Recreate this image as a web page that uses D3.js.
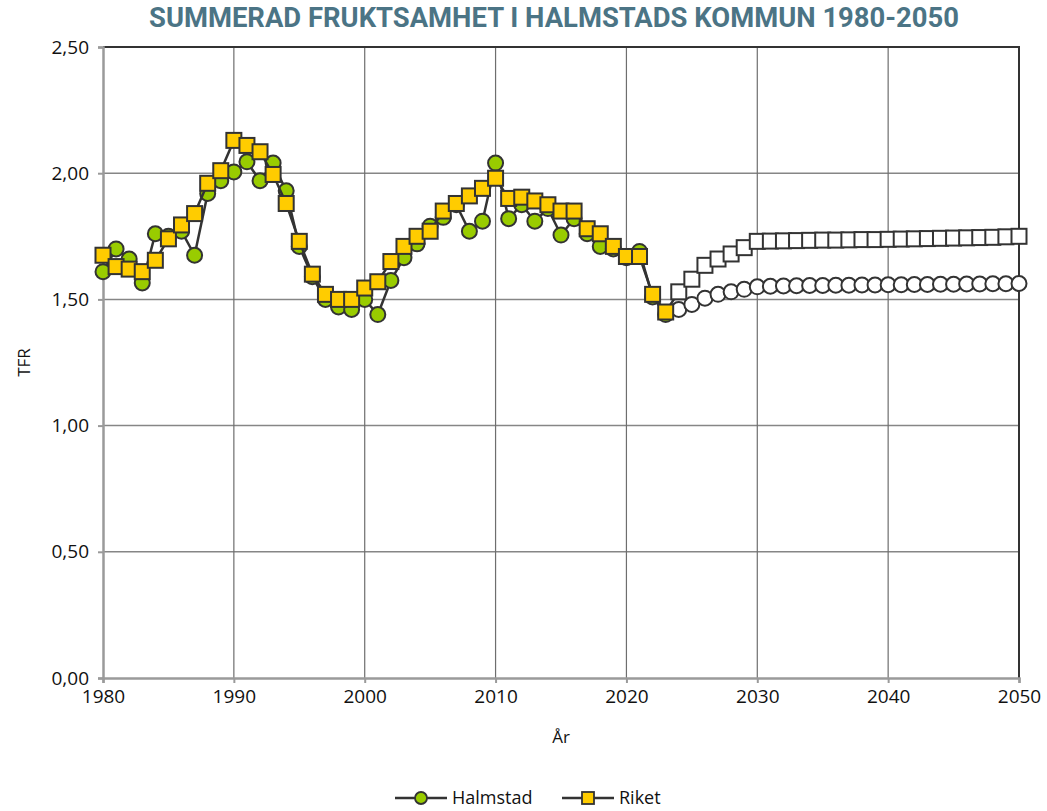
<!DOCTYPE html>
<html>
<head>
<meta charset="utf-8">
<script src="https://cdn.jsdelivr.net/npm/d3@7"></script>
<style>
  body { margin: 0; background: #fff; }
  text { font-family: "Open Sans", "DejaVu Sans", sans-serif; }
</style>
</head>
<body>
<div id="chart"></div>
<script>
// years 1980-2050, observed up to 2023, projection after
const years = d3.range(1980, 2051);
const lastObserved = 2023;

const halmstad = [
  1.61, 1.70, 1.66, 1.565, 1.76, 1.75, 1.77, 1.675, 1.92, 1.97,
  2.005, 2.045, 1.97, 2.04, 1.93, 1.71, 1.59, 1.50, 1.47, 1.46,
  1.50, 1.44, 1.575, 1.665, 1.72, 1.79, 1.825, 1.875, 1.77, 1.81,
  2.04, 1.82, 1.875, 1.81, 1.86, 1.755, 1.82, 1.76, 1.71, 1.70,
  1.665, 1.69, 1.51, 1.44,
  1.46, 1.48, 1.505, 1.52, 1.53, 1.54, 1.55, 1.552, 1.553, 1.554,
  1.555, 1.555, 1.556, 1.556, 1.557, 1.557, 1.558, 1.558, 1.559, 1.559,
  1.56, 1.56, 1.561, 1.561, 1.562, 1.562, 1.563
];

const riket = [
  1.675, 1.63, 1.62, 1.61, 1.655, 1.74, 1.795, 1.84, 1.96, 2.01,
  2.13, 2.11, 2.085, 1.995, 1.88, 1.73, 1.60, 1.52, 1.50, 1.50,
  1.545, 1.57, 1.65, 1.71, 1.75, 1.77, 1.85, 1.88, 1.91, 1.94,
  1.98, 1.90, 1.905, 1.89, 1.875, 1.85, 1.85, 1.78, 1.76, 1.71,
  1.67, 1.67, 1.52, 1.45,
  1.53, 1.58, 1.635, 1.66, 1.68, 1.705, 1.73, 1.731, 1.732, 1.733,
  1.734, 1.735, 1.735, 1.736, 1.737, 1.737, 1.738, 1.739, 1.74, 1.741,
  1.742, 1.743, 1.744, 1.745, 1.746, 1.748, 1.75
];

const yTicks = [0, 0.5, 1.0, 1.5, 2.0, 2.5];
const xTicks = [1980, 1990, 2000, 2010, 2020, 2030, 2040, 2050];

const width = 1047, height = 811;
const margin = { top: 47, right: 28, bottom: 133, left: 103 };

const svg = d3.select("#chart").append("svg")
  .attr("width", width)
  .attr("height", height);

const x = d3.scaleLinear().domain([1980, 2050]).range([margin.left, width - margin.right]);
const y = d3.scaleLinear().domain([0, 2.5]).range([height - margin.bottom, margin.top]);

const fmt = d => d.toFixed(2).replace(".", ",");

// gridlines
svg.append("g")
  .selectAll("line.h")
  .data(yTicks.slice(1, -1))
  .enter().append("line")
  .attr("x1", x(1980)).attr("x2", x(2050))
  .attr("y1", d => y(d)).attr("y2", d => y(d))
  .attr("stroke", "#868686").attr("stroke-width", 1.5);

svg.append("g")
  .selectAll("line.v")
  .data(xTicks.slice(1, -1))
  .enter().append("line")
  .attr("x1", d => x(d)).attr("x2", d => x(d))
  .attr("y1", y(0)).attr("y2", y(2.5))
  .attr("stroke", "#6e6e6e").attr("stroke-width", 1.2);

// border top/right
svg.append("path")
  .attr("d", `M${x(1980)},${y(2.5)}H${x(2050)}V${y(0)}`)
  .attr("fill", "none").attr("stroke", "#333").attr("stroke-width", 2);

// axes
const yAxis = svg.append("g")
  .attr("transform", `translate(${x(1980)},0)`)
  .call(d3.axisLeft(y).tickValues(yTicks).tickFormat(fmt).tickSize(5).tickPadding(9));
const xAxis = svg.append("g")
  .attr("transform", `translate(0,${y(0)})`)
  .call(d3.axisBottom(x).tickValues(xTicks).tickFormat(d3.format("d")).tickSize(5).tickPadding(7));

[yAxis, xAxis].forEach(g => {
  g.select(".domain").attr("stroke", "#9a9a9a").attr("stroke-width", 2.5);
  g.selectAll(".tick line").attr("stroke", "#9a9a9a").attr("stroke-width", 2);
  g.selectAll(".tick text").attr("fill", "#111").style("font-size", "19px")
    .style("font-family", "'Open Sans', sans-serif");
});

// axis titles
svg.append("text")
  .attr("x", 561).attr("y", 743)
  .attr("text-anchor", "middle")
  .style("font-size", "17px").attr("fill", "#111")
  .text("År");

svg.append("text")
  .attr("transform", `translate(30,${(y(0) + y(2.5)) / 2}) rotate(-90)`)
  .attr("text-anchor", "middle")
  .style("font-size", "17px").attr("fill", "#111")
  .text("TFR");

// title
svg.append("text")
  .attr("x", 554).attr("y", 27)
  .attr("text-anchor", "middle")
  .attr("textLength", 810)
  .attr("lengthAdjust", "spacingAndGlyphs")
  .style("font-family", "'Liberation Sans Narrow', 'Roboto', sans-serif")
  .style("font-weight", "bold")
  .style("font-size", "28px")
  .attr("fill", "#4b7485")
  .text("SUMMERAD FRUKTSAMHET I HALMSTADS KOMMUN 1980-2050");

// series
const line = d3.line().x(d => x(d.year)).y(d => y(d.value));
const toPoints = arr => years.map((yr, i) => ({ year: yr, value: arr[i] }));

const halmPts = toPoints(halmstad);
const riketPts = toPoints(riket);

const lineColor = "#333333";
const markerStroke = "#333333";
const r = 7.5, side = 15;

function drawSeries(points, shape, fill) {
  svg.append("path")
    .datum(points)
    .attr("d", line)
    .attr("fill", "none")
    .attr("stroke", lineColor)
    .attr("stroke-width", 2.5);

  const g = svg.append("g");
  if (shape === "circle") {
    g.selectAll("circle").data(points).enter().append("circle")
      .attr("cx", d => x(d.year)).attr("cy", d => y(d.value)).attr("r", r)
      .attr("fill", d => d.year > lastObserved ? "#fff" : fill)
      .attr("stroke", markerStroke).attr("stroke-width", 2);
  } else {
    g.selectAll("rect").data(points).enter().append("rect")
      .attr("x", d => x(d.year) - side / 2).attr("y", d => y(d.value) - side / 2)
      .attr("width", side).attr("height", side)
      .attr("fill", d => d.year > lastObserved ? "#fff" : fill)
      .attr("stroke", markerStroke).attr("stroke-width", 2);
  }
}

drawSeries(halmPts, "circle", "#99cc00");
drawSeries(riketPts, "square", "#ffcc00");

// legend
const legend = svg.append("g").attr("transform", "translate(0,798)");
const legendItems = [
  { name: "Halmstad", x0: 395, shape: "circle", fill: "#99cc00" },
  { name: "Riket", x0: 562, shape: "square", fill: "#ffcc00" }
];
legendItems.forEach(it => {
  legend.append("line")
    .attr("x1", it.x0).attr("x2", it.x0 + 52)
    .attr("y1", 0).attr("y2", 0)
    .attr("stroke", lineColor).attr("stroke-width", 2.5);
  if (it.shape === "circle") {
    legend.append("circle").attr("cx", it.x0 + 26).attr("cy", 0).attr("r", 6)
      .attr("fill", it.fill).attr("stroke", markerStroke).attr("stroke-width", 1.8);
  } else {
    legend.append("rect").attr("x", it.x0 + 20).attr("y", -6).attr("width", 12).attr("height", 12)
      .attr("fill", it.fill).attr("stroke", markerStroke).attr("stroke-width", 1.8);
  }
  legend.append("text")
    .attr("x", it.x0 + 57).attr("y", 6)
    .style("font-size", "18px").attr("fill", "#111")
    .text(it.name);
});
</script>
</body>
</html>
